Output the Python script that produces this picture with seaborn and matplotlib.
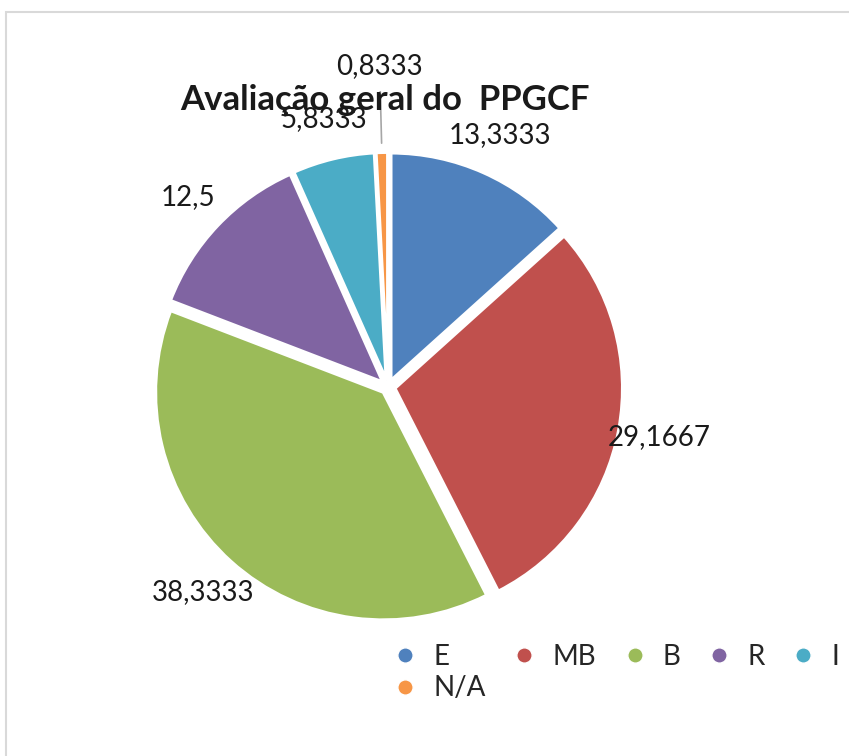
import numpy as np
import matplotlib
matplotlib.use('Agg')
import matplotlib.pyplot as plt
import seaborn as sns
from matplotlib.patches import Rectangle
from matplotlib.lines import Line2D

categorias = ['E', 'MB', 'B', 'R', 'I', 'N/A']
valores = [13.3333, 29.1667, 38.3333, 12.5, 5.8333, 0.8333]
rotulos = ['13,3333', '29,1667', '38,3333', '12,5', '5,8333', '0,8333']
cores = ['#4F81BD', '#C0504D', '#9BBB59', '#8064A2', '#4BACC6', '#F79646']

sns.set_theme(style='white')
plt.rcParams['font.family'] = ['Lato', 'DejaVu Sans']
paleta = sns.color_palette(cores)

fig = plt.figure(figsize=(8.49, 7.56), dpi=100)
fig.patches.append(Rectangle((6/849, -0.1), 1.2, 1.1 - 12/756, transform=fig.transFigure,
                             fill=False, edgecolor='#D9D9D9', linewidth=1.5, zorder=0))

ax = fig.add_axes([0.1079, 0.0960, 0.6982, 0.7841])
wedges, textos = ax.pie(valores, labels=rotulos, colors=paleta, startangle=90, counterclock=False,
                        explode=[0.03] * len(valores), labeldistance=1.18,
                        wedgeprops=dict(edgecolor='white', linewidth=2.5),
                        textprops=dict(fontsize=20, color='#1a1a1a'))
for t in textos:
    t.set_horizontalalignment('center')
    t.set_verticalalignment('center')

# rótulo do N/A fica mais longe, com linha de chamada
w = wedges[-1]
ang = np.deg2rad((w.theta1 + w.theta2) / 2)
textos[-1].set_position((1.41 * np.cos(ang), 1.41 * np.sin(ang)))
ax.plot([1.07 * np.cos(ang), 1.32 * np.cos(ang)], [1.07 * np.sin(ang), 1.32 * np.sin(ang)],
        color='#A6A6A6', linewidth=1.2)

ax.set_xlim(-1.3, 1.3)
ax.set_ylim(-1.3, 1.3)
ax.set_aspect('equal')
ax.axis('off')

fig.text(0.453, 0.868, 'Avaliação geral do  PPGCF', ha='center', va='center',
         fontsize=25, fontweight='bold', color='#1a1a1a')

# legenda em linhas: a ordem é ajustada porque o matplotlib preenche por coluna
ordem = [0, 5, 1, 2, 3, 4]
handles = [Line2D([0], [0], marker='o', linestyle='', markersize=11, markerfacecolor=cores[i],
                  markeredgecolor='white') for i in ordem]
fig.legend(handles, [categorias[i] for i in ordem], loc='upper left', bbox_to_anchor=(0.448, 0.163),
           ncol=5, frameon=False, fontsize=20, handletextpad=0.5, columnspacing=0.9,
           labelspacing=0.2, borderaxespad=0, handlelength=1.0)

fig.savefig('out.png', dpi=100)
